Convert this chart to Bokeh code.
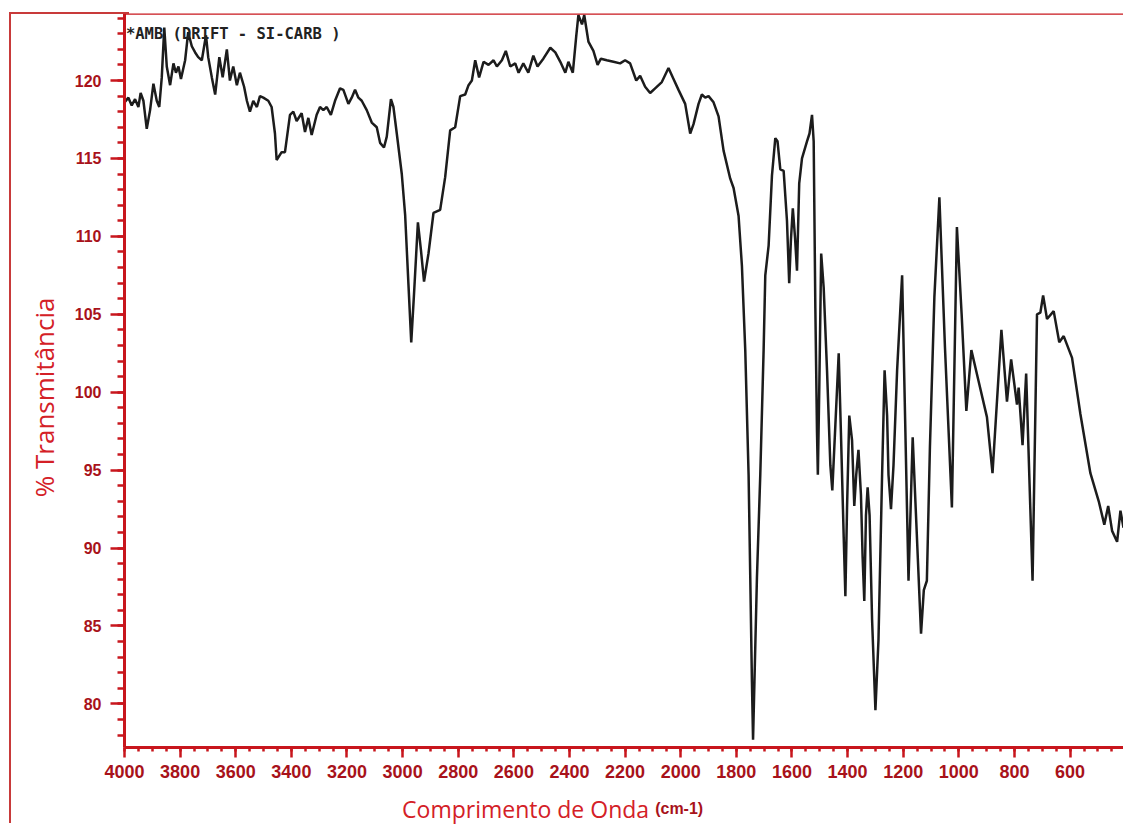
from bokeh.plotting import figure
from bokeh.layouts import column
from bokeh.models import Range1d, Label, SingleIntervalTicker, Span, InlineStyleSheet
from bokeh.embed import file_html
from bokeh.resources import INLINE

# Wavenumber (cm-1) and % transmittance
wavenumber = [
    4000, 3986, 3974, 3962, 3950, 3942, 3932, 3920, 3908, 3896, 3884, 3875, 3866, 3857, 3848,
    3836, 3824, 3815, 3806, 3797, 3782, 3771, 3758, 3746, 3735, 3722, 3707, 3699, 3686, 3674,
    3659, 3647, 3632, 3621, 3609, 3596, 3585, 3570, 3560, 3549, 3537, 3524, 3513, 3501, 3483,
    3471, 3459, 3453, 3435, 3423, 3405, 3393, 3381, 3363, 3351, 3339, 3327, 3309, 3297, 3285,
    3273, 3258, 3243, 3225, 3213, 3195, 3183, 3171, 3159, 3147, 3129, 3111, 3093, 3081, 3067,
    3057, 3042, 3033, 3021, 3003, 2991, 2979, 2969, 2959, 2945, 2934, 2923, 2907, 2889, 2865,
    2847, 2829, 2811, 2793, 2775, 2763, 2751, 2739, 2725, 2709, 2691, 2673, 2661, 2643, 2629,
    2613, 2595, 2583, 2566, 2548, 2530, 2515, 2494, 2469, 2451, 2433, 2415, 2404, 2388, 2376,
    2368, 2355, 2347, 2332, 2314, 2299, 2287, 2266, 2242, 2218, 2200, 2182, 2160, 2146, 2128,
    2110, 2092, 2068, 2044, 2026, 2008, 1984, 1966, 1954, 1936, 1924, 1912, 1900, 1882, 1864,
    1846, 1822, 1810, 1792, 1780, 1768, 1756, 1750, 1744, 1740, 1735, 1726, 1714, 1702, 1696,
    1684, 1672, 1660, 1652, 1642, 1630, 1618, 1610, 1604, 1597, 1589, 1582, 1574, 1564, 1546,
    1537, 1528, 1522, 1516, 1510, 1507, 1502, 1495, 1486, 1474, 1462, 1455, 1444, 1432, 1424,
    1414, 1408, 1402, 1394, 1384, 1376, 1369, 1361, 1352, 1346, 1340, 1334, 1328, 1321, 1312,
    1300, 1289, 1276, 1267, 1258, 1253, 1244, 1235, 1222, 1204, 1181, 1166, 1136, 1126, 1115,
    1104, 1088, 1070, 1050, 1025, 1007, 990, 973, 955, 929, 899, 879, 847, 827, 812,
    791, 785, 771, 758, 735, 719, 707, 697, 683, 659, 639, 623, 593, 563, 527,
    497, 477, 463, 449, 431, 419, 408,
]
transmittance = [
    118.6, 118.9, 118.4, 118.8, 118.3, 119.2, 118.7, 116.9, 118.1, 119.8, 118.7, 118.3, 120.2, 123.4, 120.9,
    119.7, 121.1, 120.5, 120.9, 120.1, 121.3, 123.1, 122.2, 121.8, 121.5, 121.3, 122.9, 121.5, 120.2, 119.1,
    121.5, 120.2, 122.0, 120.0, 120.9, 119.7, 120.5, 119.6, 118.7, 118.0, 118.7, 118.3, 119.0, 118.9, 118.7,
    118.3, 116.6, 114.9, 115.4, 115.4, 117.8, 118.0, 117.4, 117.9, 116.7, 117.6, 116.5, 117.8, 118.3, 118.1,
    118.3, 117.8, 118.7, 119.5, 119.4, 118.5, 118.9, 119.4, 118.9, 118.7, 118.1, 117.3, 117.0, 116.0, 115.7,
    116.4, 118.8, 118.3, 116.6, 114.0, 111.4, 106.9, 103.2, 106.3, 110.9, 109.1, 107.1, 108.9, 111.5, 111.7,
    113.8, 116.8, 117.0, 119.0, 119.1, 119.7, 120.0, 121.3, 120.2, 121.2, 121.0, 121.3, 120.9, 121.3, 121.9,
    120.9, 121.1, 120.5, 121.1, 120.5, 121.6, 120.9, 121.4, 122.1, 121.8, 121.2, 120.5, 121.2, 120.5, 122.8,
    124.2, 123.6, 124.2, 122.5, 121.9, 121.0, 121.4, 121.3, 121.2, 121.1, 121.3, 121.1, 120.0, 120.3, 119.6,
    119.2, 119.5, 119.9, 120.8, 120.1, 119.4, 118.5, 116.6, 117.2, 118.5, 119.1, 118.9, 119.0, 118.6, 117.7,
    115.5, 113.7, 113.1, 111.3, 108.1, 102.7, 94.7, 88.1, 81.4, 77.7, 81.4, 88.1, 94.7, 102.7, 107.5,
    109.4, 113.9, 116.3, 116.1, 114.3, 114.2, 111.0, 107.0, 109.7, 111.8, 109.9, 107.8, 113.4, 115.0, 116.1,
    116.6, 117.8, 116.1, 105.4, 97.4, 94.7, 100.1, 108.9, 106.7, 101.4, 95.3, 93.7, 97.9, 102.5, 97.4,
    90.7, 86.9, 92.6, 98.5, 96.9, 92.7, 94.7, 96.3, 93.4, 89.4, 86.6, 92.1, 93.9, 92.1, 85.4,
    79.6, 84.1, 94.7, 101.4, 98.5, 94.7, 92.5, 95.3, 101.4, 107.5, 87.9, 97.1, 84.5, 87.3, 87.9,
    96.5, 106.1, 112.5, 102.9, 92.6, 110.6, 105.0, 98.8, 102.7, 100.7, 98.4, 94.8, 104.0, 99.4, 102.1,
    99.2, 100.3, 96.6, 101.2, 87.9, 105.0, 105.1, 106.2, 104.7, 105.2, 103.2, 103.6, 102.2, 98.6, 94.8,
    93.0, 91.5, 92.7, 91.1, 90.4, 92.4, 91.3,
]

x_major_step = 200
y_major_step = 5
title_text = "*AMB (DRIFT - SI-CARB )"
y_label_text = "% Transmitância"
x_label_text = "Comprimento de Onda"
x_unit_text = "(cm-1)"

AXIS_RED = "#c8161d"
TICK_RED = "#a8121a"
LABEL_RED = "#d42026"
PAPER_RED = "#c83a3a"

xr = Range1d(4000, 408)

p = figure(
    width=1123, height=785,
    x_range=xr, y_range=Range1d(77.2, 124.3),
    output_backend="svg", toolbar_location=None,
    min_border_left=124, min_border_right=0, min_border_top=13, min_border_bottom=38,
)
p.grid.visible = False
p.outline_line_color = None
p.background_fill_color = "white"
p.border_fill_color = "white"

p.xaxis.ticker = SingleIntervalTicker(interval=x_major_step, num_minor_ticks=4)
p.yaxis.ticker = SingleIntervalTicker(interval=y_major_step, num_minor_ticks=5)

for ax in (p.xaxis[0], p.yaxis[0]):
    ax.axis_line_color = AXIS_RED
    ax.axis_line_width = 3
    ax.major_tick_line_color = AXIS_RED
    ax.major_tick_line_width = 2.5
    ax.minor_tick_line_color = AXIS_RED
    ax.minor_tick_line_width = 2.5
    ax.major_tick_in = 0
    ax.minor_tick_in = 0
    ax.major_label_text_color = TICK_RED
    ax.major_label_text_font = "Liberation Sans"
    ax.major_label_text_font_style = "bold"

p.xaxis.major_tick_out = 10
p.xaxis.minor_tick_out = 4
p.xaxis.major_label_text_font_size = "18px"
p.xaxis.major_label_standoff = 7

p.yaxis.major_tick_out = 14
p.yaxis.minor_tick_out = 7
p.yaxis.major_label_text_font_size = "16px"
p.yaxis.major_label_standoff = 9
p.yaxis.axis_label = y_label_text + "\u00a0" * 5
p.yaxis.axis_label_text_font = "Open Sans"
p.yaxis.axis_label_text_font_style = "normal"
p.yaxis.axis_label_text_font_size = "26px"
p.yaxis.axis_label_text_color = LABEL_RED
p.yaxis.axis_label_standoff = 10

# top border of the chart frame
p.add_layout(Span(location=124.3, dimension="width", line_color=AXIS_RED, line_width=2.5))

p.line(wavenumber, transmittance, line_color="#1c1c1c", line_width=2.5)

p.add_layout(Label(x=3995, y=122.98, text=title_text, text_font="DejaVu Sans Mono",
                   text_font_size="15.5px", text_font_style="bold", text_color="#222222",
                   text_baseline="alphabetic"))

# strip under the axis holding the x-axis caption
cap = figure(
    width=1123, height=40, x_range=xr, y_range=Range1d(0, 40),
    output_backend="svg", toolbar_location=None,
    x_axis_location=None, y_axis_location=None,
    min_border_left=124, min_border_right=0, min_border_top=0, min_border_bottom=0,
)
cap.grid.visible = False
cap.outline_line_color = None
cap.add_layout(Label(x=3002, y=17, text=x_label_text, text_font="Open Sans",
                     text_font_size="23px", text_color=LABEL_RED, text_baseline="alphabetic"))
cap.add_layout(Label(x=2092, y=17, text=x_unit_text, text_font="Liberation Sans",
                     text_font_size="16px", text_font_style="bold", text_color=TICK_RED,
                     text_baseline="alphabetic"))

layout = column(p, cap, spacing=0)
# scanned paper border on the left and top
layout.stylesheets = [InlineStyleSheet(css=(
    ":host { position: relative; }"
    ":host::after { content: ''; position: absolute; left: 9px; top: 12px; bottom: 2px;"
    " border-left: 2px solid " + PAPER_RED + "; pointer-events: none; z-index: 10; }"
    ":host::before { content: ''; position: absolute; left: 9px; top: 12px; width: 120px;"
    " border-top: 2px solid " + PAPER_RED + "; pointer-events: none; z-index: 10; }"
))]
open("out.html", "w").write(file_html(layout, INLINE))
